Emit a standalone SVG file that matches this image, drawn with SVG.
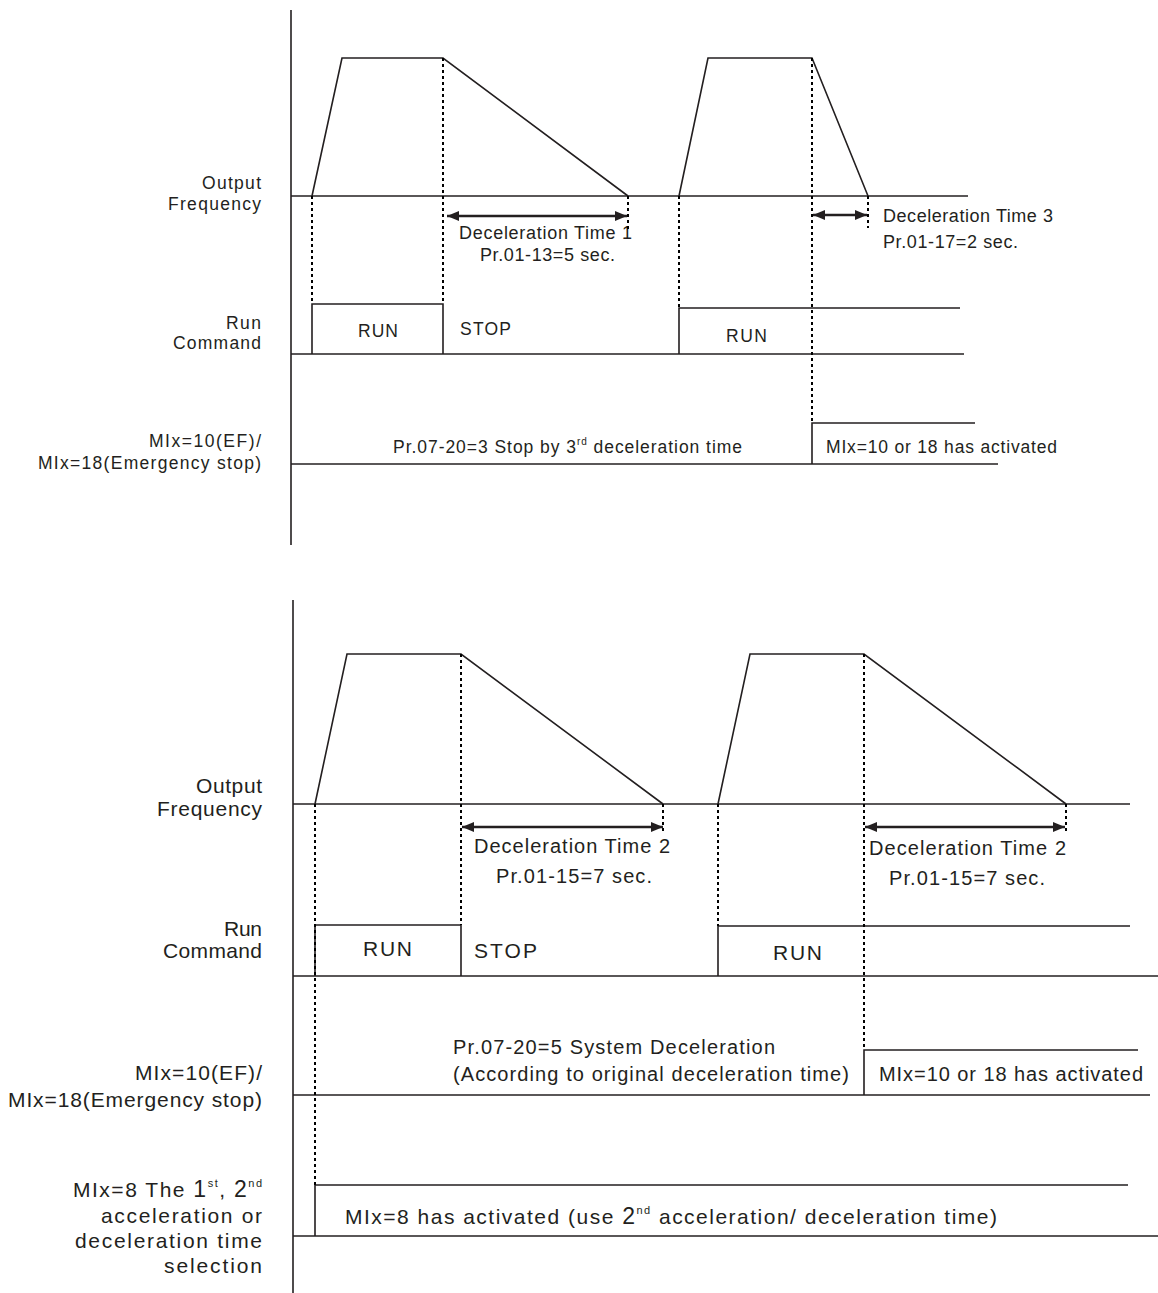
<svg xmlns="http://www.w3.org/2000/svg" width="1158" height="1293" viewBox="0 0 1158 1293">
<style>
.ln{stroke:#231f20;stroke-width:1.6;fill:none}
.dt{stroke:#000;stroke-width:2;stroke-dasharray:3 3;fill:none}
.ar{stroke:#231f20;stroke-width:2.6;fill:none;marker-start:url(#ah);marker-end:url(#ah)}
.t{font-family:"Liberation Sans",Arial,sans-serif;fill:#231f20}
.s17{font-size:17.5px}
.s18{font-size:18px}
.s20{font-size:20px}
.s21{font-size:21px}
.sup{font-size:10px}
.sup2{font-size:11px}
.big{font-size:23px}
</style>
<defs>
<marker id="ah" viewBox="0 0 12 10" refX="12" refY="5" markerWidth="12" markerHeight="10" markerUnits="userSpaceOnUse" orient="auto-start-reverse">
<path d="M0,0 L12,5 L0,10 z" fill="#231f20"/>
</marker>
</defs>
<rect width="1158" height="1293" fill="#fff"/>

<!-- ===== TOP CHART ===== -->
<g id="top-axis"><line class="ln" x1="291" y1="10" x2="291" y2="545"/></g>

<g id="top-output-frequency">
<line class="ln" x1="291" y1="196" x2="968" y2="196"/>
<polyline class="ln" points="312,196 342,58 443,58 628,196"/>
<polyline class="ln" points="679,196 708,58 812,58 868,196"/>
<text class="t s17" x="202" y="189" textLength="59">Output</text>
<text class="t s17" x="168" y="210" textLength="93">Frequency</text>
</g>

<g id="top-run-command">
<line class="ln" x1="291" y1="354" x2="964" y2="354"/>
<polyline class="ln" points="312,354 312,304 443,304 443,354"/>
<polyline class="ln" points="679,354 679,308 960,308"/>
<text class="t s17" x="226" y="329" textLength="35">Run</text>
<text class="t s17" x="173" y="349" textLength="88">Command</text>
<text class="t s17" x="358" y="337" textLength="40">RUN</text>
<text class="t s17" x="460" y="335" textLength="51">STOP</text>
<text class="t s17" x="726" y="342" textLength="41">RUN</text>
</g>

<g id="top-mix-ef">
<line class="ln" x1="291" y1="464" x2="998" y2="464"/>
<polyline class="ln" points="812,464 812,423 975,423"/>
<text class="t s17" x="149" y="447" textLength="112">MIx=10(EF)/</text>
<text class="t s17" x="38" y="469" textLength="223">MIx=18(Emergency stop)</text>
<text class="t s17" x="393" y="453" textLength="349">Pr.07-20=3 Stop by 3<tspan class="sup" dy="-8">rd</tspan><tspan dy="8"> deceleration time</tspan></text>
<text class="t s17" x="826" y="453" textLength="231">MIx=10 or 18 has activated</text>
</g>

<g id="top-decel-labels">
<text class="t s18" x="459" y="239" textLength="173">Deceleration Time 1</text>
<text class="t s18" x="480" y="261" textLength="135">Pr.01-13=5 sec.</text>
<text class="t s18" x="883" y="222" textLength="170">Deceleration Time 3</text>
<text class="t s18" x="883" y="248" textLength="135">Pr.01-17=2 sec.</text>
</g>

<!-- ===== BOTTOM CHART ===== -->
<g id="bottom-axis"><line class="ln" x1="293" y1="600" x2="293" y2="1293"/></g>

<g id="bottom-output-frequency">
<line class="ln" x1="293" y1="804" x2="1130" y2="804"/>
<polyline class="ln" points="315,804 347,654 461,654 663,804"/>
<polyline class="ln" points="718,804 750,654 864,654 1066,804"/>
<text class="t s21" x="196" y="793" textLength="66">Output</text>
<text class="t s21" x="157" y="816" textLength="105">Frequency</text>
</g>

<g id="bottom-run-command">
<line class="ln" x1="293" y1="976" x2="1158" y2="976"/>
<polyline class="ln" points="315,976 315,925 461,925 461,976"/>
<polyline class="ln" points="718,976 718,926 1130,926"/>
<text class="t s21" x="224" y="936" textLength="38">Run</text>
<text class="t s21" x="163" y="958" textLength="99">Command</text>
<text class="t s21" x="363" y="956" textLength="49">RUN</text>
<text class="t s21" x="474" y="958" textLength="63">STOP</text>
<text class="t s21" x="773" y="960" textLength="49">RUN</text>
</g>

<g id="bottom-mix-ef">
<line class="ln" x1="293" y1="1095" x2="1150" y2="1095"/>
<polyline class="ln" points="864,1095 864,1050 1138,1050"/>
<text class="t s21" x="135" y="1080" textLength="127">MIx=10(EF)/</text>
<text class="t s21" x="8" y="1107" textLength="254">MIx=18(Emergency stop)</text>
<text class="t s20" x="453" y="1054" textLength="322">Pr.07-20=5 System Deceleration</text>
<text class="t s20" x="453" y="1081" textLength="396">(According to original deceleration time)</text>
<text class="t s20" x="879" y="1081" textLength="264">MIx=10 or 18 has activated</text>
</g>

<g id="bottom-mix-8">
<line class="ln" x1="293" y1="1236" x2="1158" y2="1236"/>
<polyline class="ln" points="315,1236 315,1185 1128,1185"/>
<text class="t s21" x="73" y="1197" textLength="189">MIx=8 The <tspan class="big">1</tspan><tspan class="sup2" dy="-10">st</tspan><tspan dy="10">, </tspan><tspan class="big">2</tspan><tspan class="sup2" dy="-10">nd</tspan></text>
<text class="t s21" x="101" y="1223" textLength="161">acceleration or</text>
<text class="t s21" x="75" y="1248" textLength="187">deceleration time</text>
<text class="t s21" x="164" y="1273" textLength="98">selection</text>
<text class="t s21" x="345" y="1224" textLength="652">MIx=8 has activated (use <tspan class="big">2</tspan><tspan class="sup2" dy="-10">nd</tspan><tspan dy="10"> acceleration/ deceleration time)</tspan></text>
</g>

<g id="bottom-decel-labels">
<text class="t s20" x="474" y="853" textLength="196">Deceleration Time 2</text>
<text class="t s20" x="496" y="883" textLength="156">Pr.01-15=7 sec.</text>
<text class="t s20" x="869" y="855" textLength="197">Deceleration Time 2</text>
<text class="t s20" x="889" y="885" textLength="156">Pr.01-15=7 sec.</text>
</g>

<!-- ===== CONNECTORS ===== -->
<g id="connectors">
<line class="dt" x1="312" y1="196" x2="312" y2="304"/>
<line class="dt" x1="443" y1="58" x2="443" y2="304"/>
<line class="dt" x1="628" y1="196" x2="628" y2="230"/>
<line class="dt" x1="679" y1="196" x2="679" y2="308"/>
<line class="dt" x1="812" y1="58" x2="812" y2="423"/>
<line class="dt" x1="868" y1="196" x2="868" y2="228"/>
<line class="ar" x1="447" y1="216" x2="627" y2="216"/>
<line class="ar" x1="813" y1="215" x2="867" y2="215"/>

<line class="dt" x1="315" y1="804" x2="315" y2="1185"/>
<line class="dt" x1="461" y1="654" x2="461" y2="925"/>
<line class="dt" x1="663" y1="804" x2="663" y2="832"/>
<line class="dt" x1="718" y1="804" x2="718" y2="926"/>
<line class="dt" x1="864" y1="654" x2="864" y2="1050"/>
<line class="dt" x1="1066" y1="804" x2="1066" y2="833"/>
<line class="ar" x1="462" y1="827" x2="663" y2="827"/>
<line class="ar" x1="865" y1="827" x2="1065" y2="827"/>
</g>
</svg>
